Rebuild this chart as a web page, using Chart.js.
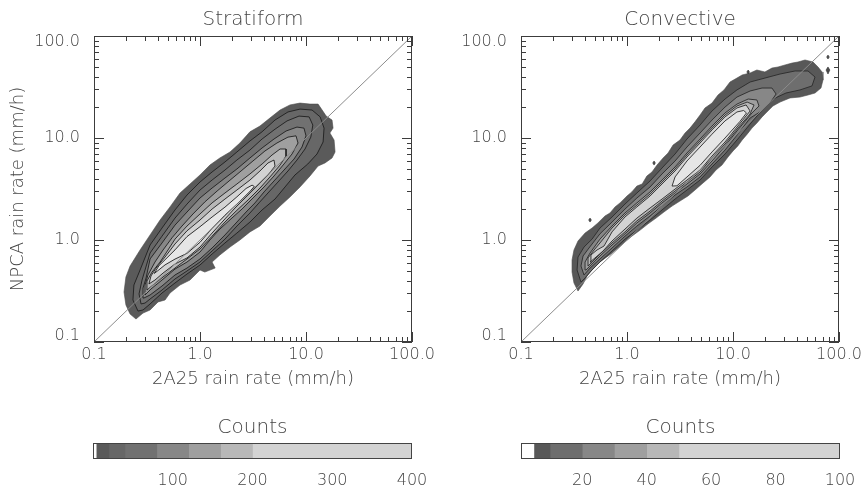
<!DOCTYPE html>
<html>
<head>
<meta charset="utf-8">
<script src="https://cdn.jsdelivr.net/npm/chart.js@4.4.1/dist/chart.umd.min.js"></script>
<style>
    html, body { margin: 0; padding: 0; background: #fff; }
    body { width: 865px; height: 487px; position: relative; overflow: hidden; }
    canvas { position: absolute; }
</style>
</head>
<body>
<canvas id="strat" width="440" height="400" style="left:0;top:0"></canvas>
<canvas id="conv" width="438" height="400" style="left:427px;top:0"></canvas>
<canvas id="stratBar" width="440" height="77" style="left:0;top:410px"></canvas>
<canvas id="convBar" width="438" height="77" style="left:427px;top:410px"></canvas>
<script>
// axis ticks (mm/h)
const majorTicks = [0.1, 1, 10, 100];
const minorTicks = [0.2, 0.3, 0.4, 0.5, 0.6, 0.7, 0.8, 0.9, 2, 3, 4, 5, 6, 7, 8, 9, 20, 30, 40, 50, 60, 70, 80, 90];
const oneToOne = [[0.1, 0.1], [100, 100]];

// Stratiform contours, outermost first: [2A25, NPCA] in mm/h
const stratL0 = [[0.249,0.168],[0.219,0.188],[0.20,0.231],[0.192,0.309],[0.20,0.434],[0.219,0.556],[0.272,0.798],[0.338,1.12],[0.42,1.57],[0.521,2.11],[0.648,2.89],[0.805,3.54],[1.0,4.34],[1.24,5.43],[1.54,6.37],[1.92,7.29],[2.38,8.93],[2.96,11.5],[3.68,13.1],[4.57,15.7],[5.69,18.8],[7.06,21.1],[8.78,22.0],[10.9,21.5],[13.0,21.5],[14.2,18.8],[15.5,16.4],[17.6,15.0],[18.0,12.5],[16.8,11.2],[18.4,9.55],[18.8,7.29],[17.6,6.37],[15.1,5.69],[13.0,5.31],[10.9,4.24],[8.78,3.31],[7.06,2.64],[5.69,2.15],[4.57,1.72],[3.68,1.37],[2.96,1.20],[2.38,1.00],[1.92,0.853],[1.54,0.713],[1.30,0.608],[1.39,0.531],[1.11,0.485],[1.0,0.508],[0.805,0.405],[0.648,0.362],[0.521,0.302],[0.468,0.258],[0.402,0.247],[0.338,0.206],[0.29,0.192]];
const stratL1 = [[0.26,0.201],[0.233,0.258],[0.238,0.362],[0.272,0.508],[0.338,0.893],[0.438,1.31],[0.581,1.97],[0.754,2.76],[1.0,3.70],[1.30,4.64],[1.72,5.82],[2.23,7.29],[2.96,9.35],[3.85,11.5],[5.10,15.0],[6.76,18.0],[8.78,19.2],[11.4,18.8],[13.6,16.1],[14.8,12.5],[14.5,9.14],[12.7,6.97],[10.4,5.56],[7.87,4.34],[6.34,3.31],[5.10,2.52],[3.85,1.97],[2.96,1.50],[2.23,1.17],[1.72,0.935],[1.30,0.729],[1.0,0.569],[0.754,0.464],[0.581,0.379],[0.438,0.302],[0.338,0.236],[0.29,0.206]];
const stratL2 = [[0.278,0.236],[0.266,0.296],[0.284,0.405],[0.338,0.746],[0.438,1.09],[0.581,1.64],[0.754,2.25],[1.0,3.09],[1.30,3.87],[1.72,4.85],[2.23,6.08],[2.96,7.62],[3.85,9.77],[5.10,12.2],[6.62,14.7],[8.59,16.4],[10.7,16.1],[11.6,13.4],[11.1,10.2],[9.79,7.80],[8.22,6.08],[6.76,4.75],[5.44,3.70],[4.38,2.89],[3.60,2.31],[2.96,1.84],[2.23,1.37],[1.72,1.02],[1.30,0.78],[1.0,0.608],[0.754,0.497],[0.581,0.415],[0.438,0.323],[0.338,0.264],[0.303,0.241]];
const stratL3 = [[0.296,0.27],[0.29,0.338],[0.31,0.424],[0.338,0.652],[0.438,0.935],[0.581,1.40],[0.754,1.88],[1.0,2.58],[1.30,3.23],[1.72,4.05],[2.23,4.97],[2.96,6.37],[3.85,7.98],[4.99,9.77],[6.48,11.7],[8.22,12.8],[9.57,12.5],[10.0,10.5],[9.17,8.16],[7.71,6.22],[6.20,4.85],[4.99,3.79],[4.02,2.96],[3.30,2.31],[2.72,1.88],[2.23,1.50],[1.72,1.12],[1.30,0.835],[1.0,0.652],[0.754,0.531],[0.581,0.454],[0.438,0.354],[0.338,0.289]];
const stratL4 = [[0.303,0.289],[0.303,0.362],[0.323,0.454],[0.376,0.608],[0.448,0.798],[0.544,1.05],[0.676,1.37],[0.859,1.80],[1.11,2.36],[1.45,3.02],[1.88,3.79],[2.44,4.75],[3.16,5.95],[4.10,7.46],[5.32,8.93],[6.76,10.2],[8.05,10.5],[8.41,8.93],[7.38,6.97],[6.20,5.56],[4.99,4.24],[4.02,3.31],[3.16,2.58],[2.49,2.01],[1.96,1.61],[1.54,1.28],[1.24,1.0],[1.0,0.762],[0.754,0.608],[0.581,0.519],[0.438,0.405],[0.345,0.331]];
const stratL5 = [[0.316,0.323],[0.316,0.396],[0.353,0.485],[0.42,0.608],[0.499,0.798],[0.581,1.02],[0.754,1.37],[1.0,1.80],[1.30,2.31],[1.72,2.89],[2.23,3.54],[2.96,4.44],[3.85,5.56],[4.78,6.81],[5.69,7.80],[6.48,7.80],[6.48,6.66],[5.69,5.43],[4.57,4.15],[3.68,3.23],[2.84,2.47],[2.19,1.92],[1.72,1.50],[1.30,1.09],[1.0,0.816],[0.754,0.652],[0.581,0.531],[0.448,0.434],[0.36,0.362]];
const stratL6 = [[0.33,0.371],[0.345,0.444],[0.385,0.531],[0.468,0.681],[0.581,0.914],[0.754,1.23],[1.0,1.57],[1.30,2.01],[1.72,2.52],[2.23,3.09],[2.96,3.87],[3.68,4.75],[4.38,5.69],[4.99,6.08],[5.10,5.31],[4.38,4.34],[3.45,3.38],[2.66,2.58],[2.14,2.06],[1.72,1.61],[1.30,1.17],[1.0,0.853],[0.754,0.667],[0.581,0.582],[0.448,0.474],[0.376,0.405]];
const stratL7 = [[0.37,0.47],[0.41,0.56],[0.468,0.64],[0.581,0.80],[0.754,1.08],[1.0,1.35],[1.30,1.68],[1.72,2.10],[2.23,2.65],[2.72,3.20],[3.10,3.45],[3.25,3.35],[2.96,3.0],[2.23,2.25],[1.72,1.75],[1.30,1.30],[1.0,0.95],[0.754,0.74],[0.581,0.65],[0.468,0.57],[0.40,0.50]];
const stratShades = ['#5a5a5a', '#676767', '#717171', '#878787', '#9f9f9f', '#b8b8b8', '#d3d3d3', '#e6e6e6'];

// Convective contours, outermost first
const convL0 = [[0.345,0.316],[0.316,0.379],[0.303,0.485],[0.303,0.637],[0.316,0.798],[0.345,0.978],[0.402,1.17],[0.468,1.31],[0.532,1.47],[0.62,1.72],[0.691,1.84],[0.771,2.11],[0.859,2.31],[1.0,2.70],[1.11,2.96],[1.24,3.38],[1.39,3.54],[1.54,4.24],[1.72,4.64],[1.92,5.43],[2.19,6.37],[2.44,7.13],[2.72,8.53],[3.16,9.55],[3.53,11.2],[3.93,12.5],[4.38,14.4],[4.89,16.8],[5.44,19.7],[6.34,22.0],[7.22,26.4],[8.22,29.6],[9.37,35.4],[10.9,38.7],[12.2,41.5],[14.5,43.4],[16.8,46.4],[20.0,44.4],[23.3,48.5],[26.6,49.7],[31.0,52.0],[36.1,54.3],[41.0,55.6],[47.8,58.2],[56.9,55.6],[63.4,49.7],[69.2,44.4],[70.6,37.0],[67.6,30.9],[59.4,27.6],[51.0,26.4],[42.9,25.2],[34.5,24.7],[27.8,22.5],[23.8,20.6],[20.9,18.0],[18.8,16.1],[16.8,14.0],[15.1,12.5],[13.6,10.9],[12.2,9.55],[11.1,8.35],[10.0,7.46],[8.97,6.51],[7.87,5.43],[6.91,4.85],[6.07,4.15],[5.21,3.62],[4.38,3.09],[3.76,2.70],[3.16,2.41],[2.66,2.15],[2.23,1.88],[1.88,1.64],[1.58,1.44],[1.33,1.25],[1.11,1.09],[0.957,0.955],[0.822,0.835],[0.706,0.729],[0.607,0.652],[0.521,0.582],[0.468,0.508],[0.42,0.444],[0.385,0.371]];
const convL1 = [[0.368,0.387],[0.338,0.508],[0.345,0.681],[0.393,0.853],[0.468,1.02],[0.556,1.31],[0.722,1.68],[0.957,2.25],[1.24,2.89],[1.65,3.79],[2.14,5.08],[2.84,6.97],[3.68,9.77],[4.89,13.4],[6.34,18.4],[8.41,24.1],[10.9,29.6],[14.5,35.4],[20.0,38.7],[27.8,42.4],[38.5,45.4],[51.0,45.4],[59.4,39.6],[55.6,32.4],[42.9,29.6],[31.6,27.6],[23.8,24.1],[18.8,18.8],[14.5,13.7],[11.1,9.77],[8.41,6.97],[6.34,5.20],[4.89,3.87],[3.68,3.09],[2.84,2.52],[2.14,1.97],[1.65,1.57],[1.24,1.25],[0.957,1.02],[0.722,0.78],[0.556,0.608],[0.448,0.485],[0.402,0.424]];
const convL2 = [[0.393,0.454],[0.368,0.556],[0.385,0.697],[0.438,0.835],[0.556,1.15],[0.722,1.50],[0.957,2.01],[1.24,2.58],[1.65,3.31],[2.14,4.44],[2.84,5.95],[3.68,8.16],[4.89,11.2],[6.34,15.0],[8.41,20.1],[10.9,25.2],[14.5,28.9],[18.8,30.9],[23.3,30.9],[25.5,27.0],[22.3,22.0],[18.0,18.0],[14.5,15.7],[11.1,10.9],[8.41,7.62],[6.34,5.56],[4.89,4.15],[3.68,3.31],[2.84,2.76],[2.14,2.15],[1.65,1.72],[1.24,1.37],[0.957,1.09],[0.722,0.835],[0.556,0.652],[0.448,0.531]];
const convL3 = [[0.41,0.508],[0.402,0.608],[0.448,0.746],[0.556,1.02],[0.722,1.37],[0.957,1.84],[1.24,2.31],[1.65,2.96],[2.14,3.87],[2.84,5.20],[3.68,7.13],[4.89,9.77],[6.34,13.1],[8.41,17.6],[10.9,21.5],[13.9,24.1],[16.8,23.6],[17.6,20.6],[15.1,17.6],[11.1,12.0],[8.41,8.35],[6.34,5.95],[4.89,4.44],[3.68,3.54],[2.84,2.89],[2.14,2.31],[1.65,1.84],[1.24,1.47],[0.957,1.15],[0.722,0.893],[0.556,0.697],[0.457,0.569]];
const convL4 = [[0.429,0.556],[0.429,0.667],[0.489,0.798],[0.556,0.935],[0.722,1.31],[0.957,1.76],[1.24,2.20],[1.65,2.82],[2.14,3.70],[2.84,4.97],[3.68,6.81],[4.89,9.35],[6.34,12.5],[8.41,16.8],[10.9,20.6],[13.6,22.5],[15.8,21.1],[14.5,17.2],[11.1,12.5],[8.41,8.73],[6.34,6.37],[4.89,4.64],[3.68,3.70],[2.84,3.02],[2.14,2.41],[1.65,1.92],[1.24,1.54],[0.957,1.20],[0.722,0.935],[0.556,0.729],[0.468,0.608]];
const convL5 = [[0.448,0.608],[0.457,0.713],[0.521,0.798],[0.607,0.873],[0.722,1.20],[0.957,1.68],[1.24,2.11],[1.65,2.70],[2.14,3.54],[2.84,4.75],[3.68,6.51],[4.89,8.93],[6.34,12.0],[8.41,16.1],[10.9,19.7],[13.3,21.1],[14.5,18.4],[11.1,13.1],[8.41,9.14],[6.34,6.66],[4.89,4.85],[3.68,3.87],[2.84,3.16],[2.14,2.52],[1.65,2.06],[1.24,1.64],[0.957,1.28],[0.722,0.978],[0.594,0.78],[0.499,0.667]];
const convL6 = [[2.66,3.38],[2.84,4.15],[3.68,5.95],[4.89,8.16],[6.34,10.9],[8.41,14.7],[10.9,18.0],[12.6,18.6],[13.4,17.6],[11.6,14.5],[8.41,10.0],[6.34,7.3],[4.89,5.4],[3.68,4.15],[2.96,3.4]];
const convShades = ['#585858', '#6e6e6e', '#878787', '#9f9f9f', '#b7b7b7', '#d3d3d3', '#e6e6e6'];
// isolated specks outside the main cloud
const convSpeck1 = [[0.435,1.57],[0.448,1.64],[0.461,1.57],[0.448,1.50]];
const convSpeck2 = [[1.75,5.69],[1.80,5.95],[1.85,5.69],[1.80,5.43]];
const convSpeck3 = [[13.5,44.4],[13.9,46.4],[14.3,44.4],[13.9,42.4]];
const convSpeck4 = [[76.5,62.2],[78.7,65.0],[81.0,62.2],[78.7,59.5]];
const convSpeck5 = [[75.5,46.4],[78.7,49.7],[82.0,46.4],[78.7,42.4]];

// colour bars
const stratBounds = [0, 4, 20, 40, 80, 120, 160, 200, 400];
const stratBarShades = ['#ffffff', '#5a5a5a', '#676767', '#717171', '#878787', '#9f9f9f', '#b8b8b8', '#d3d3d3'];
const stratBarTicks = [100, 200, 300, 400];
const convBounds = [1, 5, 10, 20, 30, 40, 50, 100];
const convBarShades = ['#ffffff', '#585858', '#6e6e6e', '#878787', '#9f9f9f', '#b7b7b7', '#d3d3d3'];
const convBarTicks = [20, 40, 60, 80, 100];

Chart.defaults.font.family = "'DejaVu Sans', sans-serif";
Chart.defaults.font.weight = '200';
Chart.defaults.color = '#404040';

const toXY = pts => pts.map(([x, y]) => ({ x, y }));

function contourSets(levels, shades, lineColor) {
    // 外圈先画，内圈后画
    return levels.map((pts, i) => ({
        data: toXY([...pts, pts[0]]),
        showLine: true,
        fill: 'shape',
        backgroundColor: shades[i],
        borderColor: i === 0 ? '#4a4a4a' : lineColor,
        borderWidth: i === 0 ? 0.6 : 0.9,
        pointRadius: 0,
        tension: 0,
        order: levels.length - i + 2,
    }));
}

function speckSets(specks) {
    return specks.map(pts => ({
        data: toXY([...pts, pts[0]]),
        showLine: true,
        fill: 'shape',
        backgroundColor: '#4a4a4a',
        borderColor: '#333',
        borderWidth: 0.6,
        pointRadius: 0,
        order: 1,
    }));
}

function diagonalSet() {
    return {
        data: toXY(oneToOne),
        showLine: true,
        borderColor: '#8c8c8c',
        borderWidth: 1,
        pointRadius: 0,
        order: 0,
    };
}

const frameTicks = {
    id: 'frameTicks',
    afterDatasetsDraw(chart) {
        const { ctx, chartArea: a, scales: { x, y } } = chart;
        ctx.save();
        ctx.strokeStyle = '#3c3c3c';
        ctx.lineWidth = 1;
        ctx.strokeRect(a.left + 0.5, a.top + 0.5, a.right - a.left - 1, a.bottom - a.top - 1);
        ctx.beginPath();
        const mark = (v, len) => {
            const px = Math.round(x.getPixelForValue(v)) + 0.5;
            const py = Math.round(y.getPixelForValue(v)) + 0.5;
            ctx.moveTo(px, a.bottom); ctx.lineTo(px, a.bottom - len);
            ctx.moveTo(px, a.top); ctx.lineTo(px, a.top + len);
            ctx.moveTo(a.left, py); ctx.lineTo(a.left + len, py);
            ctx.moveTo(a.right, py); ctx.lineTo(a.right - len, py);
        };
        majorTicks.forEach(v => mark(v, 10));
        minorTicks.forEach(v => mark(v, 5));
        ctx.stroke();
        ctx.restore();
    }
};

const barFrame = {
    id: 'barFrame',
    afterDatasetsDraw(chart) {
        const { ctx, chartArea: a } = chart;
        ctx.save();
        ctx.strokeStyle = '#444';
        ctx.lineWidth = 1;
        ctx.strokeRect(a.left + 0.5, a.top + 0.5, a.right - a.left - 1, a.bottom - a.top - 1);
        ctx.restore();
    }
};

function logAxis(titleText) {
    return {
        type: 'logarithmic',
        min: 0.1,
        max: 100,
        grid: { display: false },
        border: { display: false },
        afterBuildTicks: s => { s.ticks = majorTicks.map(value => ({ value })); },
        ticks: {
            font: { size: 16 },
            color: '#444',
            callback: v => Number(v).toFixed(1),
        },
        title: titleText ? { display: true, text: titleText, font: { size: 18 }, color: '#444' } : { display: false },
    };
}

function scatterChart(id, title, levels, shades, lineColor, extras, yTitle) {
    const xAxis = logAxis('2A25 rain rate (mm/h)');
    xAxis.ticks.padding = -5;
    xAxis.title.padding = { top: 0, bottom: 10 };
    xAxis.afterFit = s => { s.height = 58; };
    const yAxis = logAxis(yTitle);
    yAxis.ticks.padding = 6;
    yAxis.ticks.font = { size: 16, lineHeight: 0.75 };
    // 顶端和底端的标签向内收
    yAxis.ticks.callback = v => {
        const s = Number(v).toFixed(1);
        if (v === majorTicks[majorTicks.length - 1]) return ['', s];
        if (v === majorTicks[0]) return [s, ''];
        return s;
    };
    if (yTitle) yAxis.title.padding = { top: 8, bottom: 0 };
    yAxis.afterFit = s => { s.width = 94; };
    return new Chart(document.getElementById(id), {
        type: 'scatter',
        data: {
            datasets: [diagonalSet(), ...extras, ...contourSets(levels, shades, lineColor)],
        },
        options: {
            responsive: false,
            animation: false,
            events: [],
            layout: { padding: { left: 0, right: document.getElementById(id).width - 412, top: 0, bottom: 0 }, autoPadding: false },
            plugins: {
                legend: { display: false },
                tooltip: { enabled: false },
                title: {
                    display: true,
                    text: title,
                    fullSize: false,
                    font: { size: 20, weight: '200' },
                    color: '#444',
                    padding: { top: 8, bottom: 4 },
                },
            },
            scales: { x: xAxis, y: yAxis },
        },
        plugins: [frameTicks],
    });
}

function colorBar(id, bounds, shades, tickVals, padLeft, padRight) {
    return new Chart(document.getElementById(id), {
        type: 'bar',
        data: {
            labels: ['Counts'],
            datasets: shades.map((c, i) => ({
                data: [[bounds[i], bounds[i + 1]]],
                backgroundColor: c,
                borderWidth: 0,
                grouped: false,
                barPercentage: 1,
                categoryPercentage: 1,
            })),
        },
        options: {
            indexAxis: 'y',
            responsive: false,
            animation: false,
            events: [],
            layout: { padding: { left: padLeft, right: padRight, top: 0, bottom: 0 }, autoPadding: false },
            plugins: {
                legend: { display: false },
                tooltip: { enabled: false },
                title: {
                    display: true,
                    text: 'Counts',
                    fullSize: false,
                    font: { size: 20, weight: '200' },
                    color: '#444',
                    padding: { top: 6, bottom: 3 },
                },
            },
            scales: {
                x: {
                    type: 'linear',
                    min: bounds[0],
                    max: bounds[bounds.length - 1],
                    grid: { display: false },
                    border: { display: false },
                    afterBuildTicks: s => { s.ticks = tickVals.map(value => ({ value })); },
                    afterFit: s => { s.height = 28; },
                    ticks: { font: { size: 16 }, color: '#444', padding: 4 },
                },
                y: { display: false },
            },
        },
        plugins: [barFrame],
    });
}

scatterChart('strat', 'Stratiform',
    [stratL0, stratL1, stratL2, stratL3, stratL4, stratL5, stratL6, stratL7],
    stratShades, '#1e1e1e', [], 'NPCA rain rate (mm/h)');
scatterChart('conv', 'Convective',
    [convL0, convL1, convL2, convL3, convL4, convL5, convL6],
    convShades, '#2a2a2a',
    speckSets([convSpeck1, convSpeck2, convSpeck3, convSpeck4, convSpeck5]), null);
colorBar('stratBar', stratBounds, stratBarShades, stratBarTicks, 93, 28);
colorBar('convBar', convBounds, convBarShades, convBarTicks, 94, 25);
</script>
</body>
</html>
